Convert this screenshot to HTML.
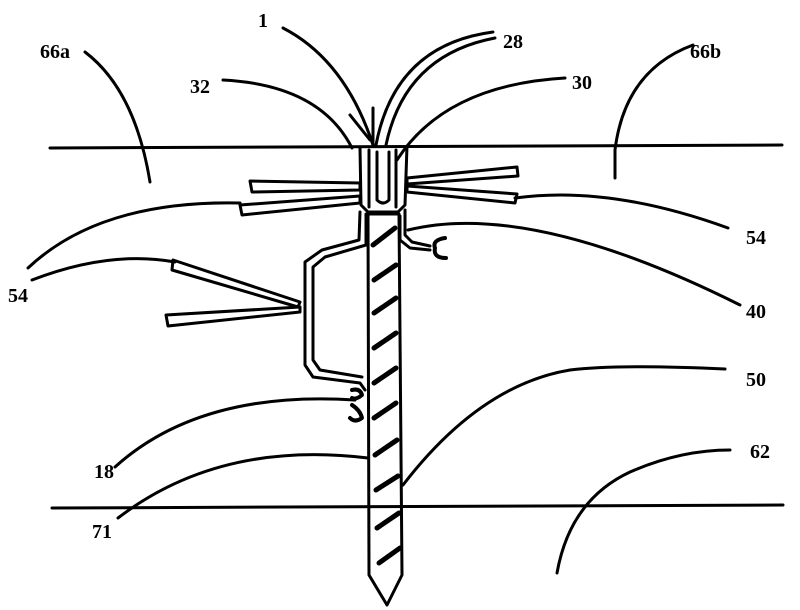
<!DOCTYPE html>
<html><head><style>
html,body{margin:0;padding:0;background:#fff;}
svg{display:block;}
text{font-family:"Liberation Serif",serif;font-weight:bold;font-size:20px;fill:#000;}
</style></head><body>
<svg width="800" height="610" viewBox="0 0 800 610" xmlns="http://www.w3.org/2000/svg">
<g fill="none" stroke="#000" stroke-width="3" stroke-linecap="round" stroke-linejoin="round">
<line x1="50" y1="148" x2="782" y2="145"/>
<line x1="52" y1="508" x2="783" y2="505"/>
<path d="M360 148 L361 205 L368 212 L398 212 L405 205 L407 146"/>
<path d="M369 150 L369 207 M396 150 L396 207"/>
<path d="M377 152 L377 200 Q383 206 389 200 L389 152"/>
<path d="M368 214 L369 575 L387 605 L402 575 L399 214 Z"/>
<g stroke-width="5">
<path d="M373 245 L395 228"/>
<path d="M374 280 L396 265"/>
<path d="M374 313 L396 298"/>
<path d="M374 348 L396 333"/>
<path d="M374 383 L396 368"/>
<path d="M374 418 L396 403"/>
<path d="M375 455 L397 440"/>
<path d="M376 490 L398 476"/>
<path d="M377 528 L399 513"/>
<path d="M379 563 L400 548"/>
</g>
<path d="M360 212 L359 240 L322 250 L305 262 L305 365 L313 377 L360 383 L365 390"/>
<path d="M366 214 L366 245 L325 257 L313 267 L313 360 L320 370 L362 377"/>
<path d="M405 210 L405 235 L412 242 L430 246"/>
<path d="M400 216 L400 240 L410 248 L430 250"/>
<path d="M445 238 Q432 240 435 248 Q433 258 446 258" stroke-width="4"/>
<path d="M352 390 Q360 388 362 395 Q356 400 352 398 M352 405 Q360 410 362 418 Q355 423 350 418" stroke-width="4"/>
<path d="M250 181 L360 183 L360 190 L252 192 Z"/>
<path d="M240 205 L360 196 L360 203 L242 215 Z"/>
<path d="M407 178 L517 167 L518 176 L407 184 Z"/>
<path d="M407 186 L517 194 L515 203 L407 192 Z"/>
<path d="M173 260 L300 302 L298 307 L172 270 Z"/>
<path d="M166 315 L300 307 L300 312 L168 326 Z"/>
<path d="M85 52 Q135 90 150 182"/>
<path d="M693 45 Q625 70 615 150 L615 178"/>
<path d="M283 28 Q345 60 373 145"/>
<path d="M493 32 Q395 45 376 145"/>
<path d="M495 38 Q405 55 386 145"/>
<path d="M223 80 Q320 85 352 148"/>
<path d="M565 78 Q445 85 397 160"/>
<path d="M373 108 L373 145 M350 115 L370 140"/>
<path d="M515 198 Q610 185 728 228"/>
<path d="M408 230 Q530 200 740 305"/>
<path d="M403 485 Q480 385 570 370 Q620 364 725 369"/>
<path d="M557 573 Q570 500 630 472 Q680 450 730 450"/>
<path d="M28 268 Q100 200 240 203"/>
<path d="M32 280 Q110 250 175 262"/>
<path d="M115 467 Q200 390 355 400"/>
<path d="M118 518 Q220 440 368 458"/>
</g>
<text x="258" y="27">1</text>
<text x="503" y="48">28</text>
<text x="40" y="58">66a</text>
<text x="690" y="58">66b</text>
<text x="190" y="93">32</text>
<text x="572" y="89">30</text>
<text x="746" y="244">54</text>
<text x="8" y="302">54</text>
<text x="746" y="318">40</text>
<text x="746" y="386">50</text>
<text x="94" y="478">18</text>
<text x="750" y="458">62</text>
<text x="92" y="538">71</text>
</svg>
</body></html>
